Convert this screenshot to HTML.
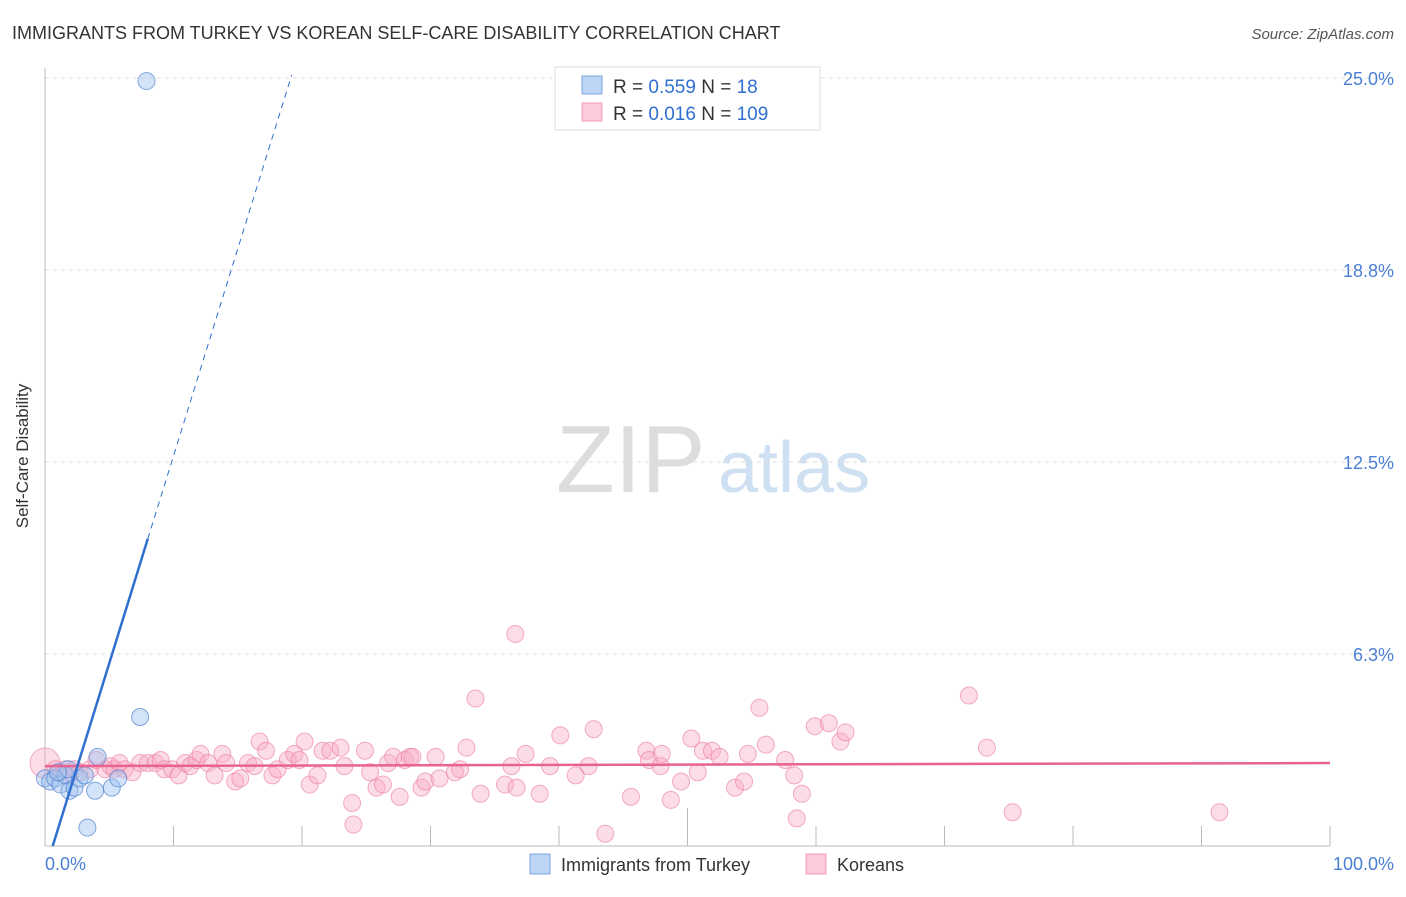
<!DOCTYPE html>
<html><head><meta charset="utf-8"><style>
body{margin:0;background:#fff;font-family:"Liberation Sans",sans-serif}
svg text{font-family:"Liberation Sans",sans-serif}
</style></head><body>
<svg id="c" width="1406" height="892">
<text x="12" y="39" font-size="18" fill="#333">IMMIGRANTS FROM TURKEY VS KOREAN SELF-CARE DISABILITY CORRELATION CHART</text>
<text x="1394" y="39" font-size="15" fill="#555" text-anchor="end" font-style="italic">Source: ZipAtlas.com</text>
<text x="556" y="492" font-size="96" fill="#ddd" font-family="Liberation Serif">ZIP</text>
<text x="718" y="492" font-size="72" fill="#cfe0f3">atlas</text>
<g id="grid"></g><g id="ticks"></g>
<line x1="45" y1="68" x2="45" y2="846" stroke="#bbb"/>
<line x1="45" y1="846" x2="1330" y2="846" stroke="#bbb"/>
<text x="28" y="456" font-size="17" fill="#333" text-anchor="middle" transform="rotate(-90 28 456)">Self-Care Disability</text>
<text x="45" y="870" font-size="18" fill="#4a7fd4">0.0%</text>
<text x="1394" y="870" font-size="18" fill="#4a7fd4" text-anchor="end">100.0%</text>
<g id="pts"></g><g id="lines"></g>
<g>
<rect x="555" y="67" width="265" height="63" fill="#fff" stroke="#ddd"/>
<rect x="582" y="76" width="20" height="18" fill="#bcd5f5" stroke="#7aa5e0"/>
<rect x="582" y="103" width="20" height="18" fill="#fccadb" stroke="#f09ab6"/>
<text x="613" y="93" font-size="19" fill="#333">R = <tspan fill="#2f6fd0">0.559</tspan>   N =   <tspan fill="#2f6fd0">18</tspan></text>
<text x="613" y="120" font-size="19" fill="#333">R = <tspan fill="#2f6fd0">0.016</tspan>   N = <tspan fill="#2f6fd0">109</tspan></text>
</g>
<g>
<rect x="530" y="854" width="20" height="20" fill="#bcd5f5" stroke="#7aa5e0"/>
<text x="561" y="871" font-size="18" fill="#333">Immigrants from Turkey</text>
<rect x="806" y="854" width="20" height="20" fill="#fccadb" stroke="#f09ab6"/>
<text x="837" y="871" font-size="18" fill="#333">Koreans</text>
</g>
</svg>
<script>
const yTicks=[6.25,12.5,18.75,25];
const yTickLabels=["6.3%","12.5%","18.8%","25.0%"];
const xTicks=[0,10,20,30,40,50,60,70,80,90,100];
const blueX=[7.9,7.4,4.1,3.3,0,0.4,0.8,1.2,1.6,1.9,2.3,2.7,3.9,5.2,5.7,1.8,1.0,3.1];
const blueY=[24.9,4.2,2.9,0.6,2.2,2.1,2.2,2.0,2.3,1.8,1.9,2.2,1.8,1.9,2.2,2.5,2.4,2.3];
const pinkX=[0,0.8,1.2,1.6,1.9,2.3,2.7,3.5,4.0,4.7,5.1,5.4,5.8,6.2,6.8,7.4,8.0,8.6,9.0,9.3,9.9,10.4,10.9,11.3,11.8,12.1,12.7,13.2,13.8,14.1,14.8,15.2,15.8,16.3,16.7,17.2,17.7,18.1,18.9,19.4,19.8,20.2,20.6,21.2,21.6,22.2,23.0,23.3,23.9,24.0,24.9,25.3,25.8,26.3,26.7,27.1,27.6,28.0,28.4,28.6,29.3,29.6,30.4,30.7,31.9,32.3,32.8,33.5,33.9,35.8,36.3,36.6,36.7,37.4,38.5,39.3,40.1,41.3,42.3,42.7,43.6,45.6,46.8,47.0,47.9,48.0,48.7,49.5,50.3,50.8,51.2,51.9,52.5,53.7,54.4,54.7,55.6,56.1,57.6,58.3,58.5,58.9,59.9,61.0,61.9,62.3,71.9,73.3,75.3,91.4];
const pinkY=[2.7,2.5,2.4,2.5,2.3,2.5,2.4,2.5,2.8,2.5,2.6,2.5,2.7,2.5,2.4,2.7,2.7,2.7,2.8,2.5,2.5,2.3,2.7,2.6,2.8,3.0,2.7,2.3,3.0,2.7,2.1,2.2,2.7,2.6,3.4,3.1,2.3,2.5,2.8,3.0,2.8,3.4,2.0,2.3,3.1,3.1,3.2,2.6,1.4,0.7,3.1,2.4,1.9,2.0,2.7,2.9,1.6,2.8,2.9,2.9,1.9,2.1,2.9,2.2,2.4,2.5,3.2,4.8,1.7,2.0,2.6,6.9,1.9,3.0,1.7,2.6,3.6,2.3,2.6,3.8,0.4,1.6,3.1,2.8,2.6,3.0,1.5,2.1,3.5,2.4,3.1,3.1,2.9,1.9,2.1,3.0,4.5,3.3,2.8,2.3,0.9,1.7,3.9,4.0,3.4,3.7,4.9,3.2,1.1,1.1,1.2];
const X=v=>45+v*12.85, Y=v=>846-v*30.72;
const NS="http://www.w3.org/2000/svg";
function mk(p,t,a){const e=document.createElementNS(NS,t);for(const k in a)e.setAttribute(k,a[k]);document.getElementById(p).appendChild(e);return e;}
yTicks.forEach((t,i)=>{
 const g=mk('grid','line',{x1:45,x2:1395,y1:Y(t),y2:Y(t),stroke:'#ddd','stroke-dasharray':'4 4'});
 
 
 const l=mk('grid','text',{x:1394,y:Y(t)+7,'font-size':18,fill:'#4a7fd4','text-anchor':'end'});
 l.textContent=yTickLabels[i];
 
 
});
xTicks.forEach((t,i)=>{
 const k=mk('ticks','line',{x1:X(t),x2:X(t),y1:(i==5?808:826),y2:846,stroke:'#bbb'});
 
 
});
pinkX.forEach((v,i)=>{
 const c=mk('pts','circle',{cx:X(v),cy:Y(pinkY[i]),r:i==0?15:8.5,fill:'rgba(248,170,195,0.4)',stroke:'rgba(235,120,160,0.6)'});
 
 
});
blueX.forEach((v,i)=>{
 const c=mk('pts','circle',{cx:X(v),cy:Y(blueY[i]),r:8.5,fill:'rgba(160,195,240,0.45)',stroke:'rgba(80,130,210,0.7)'});
 
 
});
const pl=mk('lines','line',{x1:X(0),y1:Y(2.6),x2:X(100),y2:Y(2.7),stroke:'#e8638f','stroke-width':2.5});


const b1=mk('lines','line',{x1:X(0.6),y1:Y(0),x2:X(8.0),y2:Y(10.0),stroke:'#2f6fd0','stroke-width':2.5});


const b2=mk('lines','line',{x1:X(8.0),y1:Y(10.0),x2:X(19.2),y2:Y(25.1),stroke:'#2f6fd0','stroke-width':1,'stroke-dasharray':'6 5'});


</script>
</body></html>
